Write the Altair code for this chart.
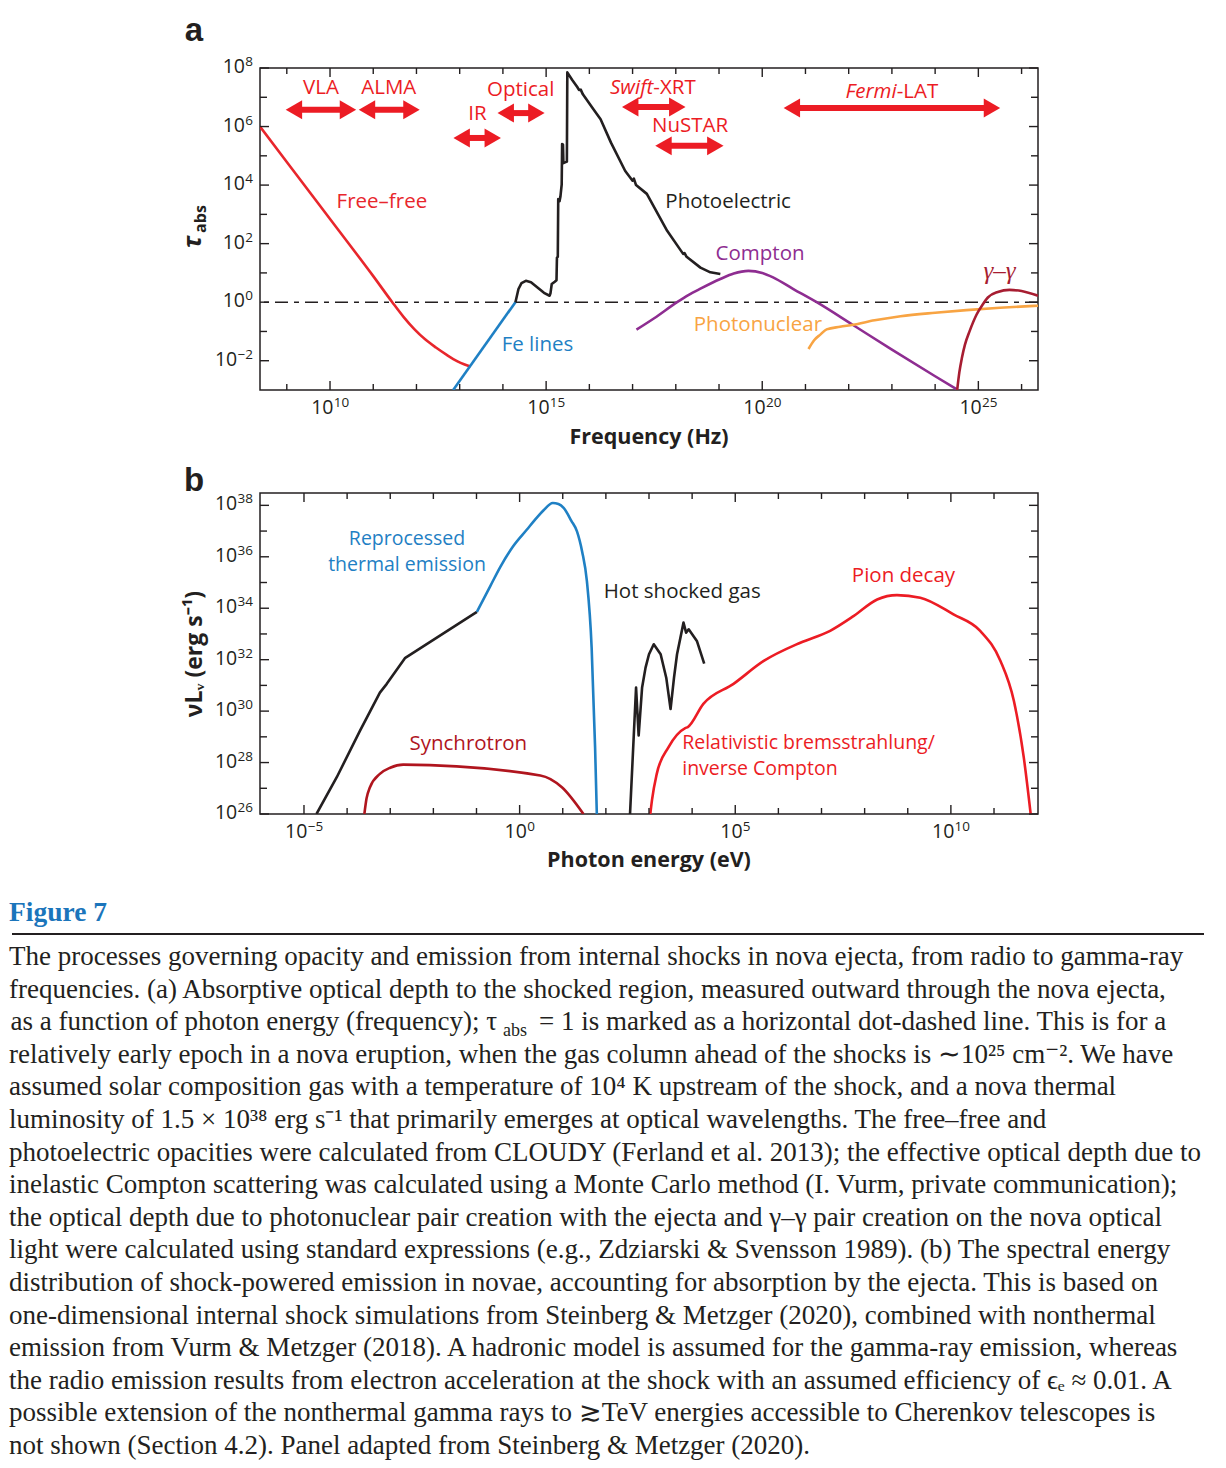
import altair as alt
import pandas as pd

FONT = "Open Sans"
SERIF = "Liberation Serif"
LETTER_FONT = "Liberation Sans"
AX = "#231f20"
RED = "#ec1c24"
FF_RED = "#e8262c"
BLUE = "#1f80c4"
BLACK = "#231f20"
PURPLE = "#8e2d91"
ORANGE = "#f8a443"
GG_RED = "#a71d31"
SYN_RED = "#b0151e"
CAP_BLUE = "#1b75bb"

W, HA, HB = 778, 322, 321

# ---------------- Panel a : log10(nu / Hz), log10(tau_abs) ----------------
a_x_domain = [8.38, 26.38]
a_y_domain = [-3.0, 8.0]

ff_x = [8.38, 9.0, 10.0, 11.0, 11.44, 11.7, 11.95, 12.2, 12.45, 12.7, 12.95, 13.1, 13.25]
ff_y = [6.0, 4.79, 2.84, 0.89, 0.0, -0.5, -0.92, -1.27, -1.55, -1.8, -2.02, -2.12, -2.2]

fe_x = [12.85, 14.29]
fe_y = [-3.0, 0.0]

pe_x = [14.29, 14.36, 14.43, 14.53, 14.65, 14.80, 14.95, 15.08, 15.10, 15.13, 15.20, 15.24, 15.25,
        15.27, 15.28, 15.31, 15.33, 15.36, 15.37, 15.39, 15.40, 15.48, 15.49, 15.60, 15.72, 15.76,
        15.80, 15.85, 16.09, 16.26, 16.50, 16.83, 17.00, 17.03, 17.08, 17.33, 17.80, 18.17, 18.20,
        18.25, 18.57, 18.80, 19.03]
pe_y = [0.00, 0.45, 0.65, 0.73, 0.68, 0.50, 0.32, 0.22, 0.30, 0.62, 0.70, 0.75, 1.52,
        1.55, 3.52, 3.45, 3.60, 4.02, 5.40, 5.38, 4.75, 4.80, 7.85, 7.60, 7.35, 7.25,
        7.26, 7.10, 6.60, 6.25, 5.45, 4.48, 4.15, 4.22, 4.00, 3.70, 2.44, 1.65, 1.68,
        1.55, 1.18, 1.02, 0.96]

co_x = [17.09, 17.5, 18.03, 18.3, 18.57, 19.03, 19.34, 19.68, 20.0, 20.26, 20.72, 21.26, 22.1, 23.0, 24.0, 24.49]
co_y = [-0.94, -0.55, 0.0, 0.25, 0.46, 0.79, 0.98, 1.07, 1.0, 0.84, 0.45, 0.0, -0.78, -1.62, -2.53, -2.97]

pn_x = [21.07, 21.2, 21.35, 21.49, 21.8, 22.1, 22.6, 23.2, 24.0, 24.72, 25.5, 26.38]
pn_y = [-1.6, -1.3, -1.1, -0.93, -0.84, -0.77, -0.62, -0.48, -0.36, -0.27, -0.19, -0.12]

gg_x = [24.51, 24.56, 24.62, 24.69, 24.8, 24.96, 25.1, 25.22, 25.45, 25.72, 26.0, 26.38]
gg_y = [-3.0, -2.4, -1.9, -1.45, -0.98, -0.42, -0.08, 0.16, 0.35, 0.42, 0.38, 0.22]

tau_one = [0.0]

arrow_lo = [8.98, 10.67, 12.86, 13.88, 16.76, 17.53, 20.5]
arrow_hi = [10.6, 12.07, 13.95, 14.96, 18.22, 19.1, 25.5]
arrow_tau = [6.57, 6.57, 5.61, 6.46, 6.67, 5.34, 6.63]

a_lab_text = ["Free\u2013free", "Fe lines", "Photoelectric", "Compton", "Photonuclear",
              "VLA", "ALMA", "IR", "Optical", "NuSTAR"]
a_lab_x = [11.20, 14.80, 19.21, 19.95, 19.90, 9.79, 11.36, 13.41, 14.41, 18.33]
a_lab_y = [3.43, -1.45, 3.43, 1.65, -0.77, 7.32, 7.32, 6.43, 7.25, 6.02]
a_lab_c = [FF_RED, BLUE, BLACK, PURPLE, ORANGE, RED, RED, RED, RED, RED]

ital_text = ["Swift", "Fermi"]
ital_rest = ["-XRT", "-LAT"]
ital_x = [17.48, 23.11]
ital_y = [7.32, 7.18]

gg_lab_x = [25.49]
gg_lab_y = [1.07]

a_xt_major = [10, 15, 20, 25]
a_xt_minor = [9, 11, 12, 13, 14, 16, 17, 18, 19, 21, 22, 23, 24, 26]
a_yt_major = [-2, 0, 2, 4, 6, 8]
a_yt_minor = [-1, 1, 3, 5, 7]

# ---------------- Panel b : log10(E / eV), log10(nu L_nu) ----------------
b_x_domain = [-6.02, 12.02]
b_y_domain = [26.0, 38.48]

th_x = [-4.71, -4.24, -3.70, -3.24, -3.08, -2.66, -0.99]
th_y = [26.0, 27.43, 29.24, 30.72, 31.06, 32.06, 33.86]

bl_x = [-0.99, -0.68, -0.45, -0.15, 0.17, 0.4, 0.55, 0.77, 0.9, 1.02, 1.2, 1.33, 1.45, 1.56, 1.67, 1.75, 1.79]
bl_y = [33.86, 34.86, 35.6, 36.41, 37.06, 37.52, 37.8, 38.09, 38.05, 37.9, 37.4, 36.99, 36.2, 35.05, 32.47, 28.59, 26.0]

sy_x = [-3.60, -3.55, -3.47, -3.24, -3.0, -2.70, 0.48, 0.98, 1.48]
sy_y = [26.0, 26.6, 27.04, 27.56, 27.8, 27.92, 27.5, 27.04, 26.0]

hg_x = [2.56, 2.70, 2.76, 2.84, 2.92, 3.0, 3.11, 3.27, 3.40, 3.50, 3.58, 3.65, 3.80, 3.86, 3.92, 4.11, 4.28]
hg_y = [26.0, 30.92, 29.05, 30.92, 31.69, 32.21, 32.6, 32.21, 31.3, 30.08, 31.3, 32.21, 33.44, 33.05, 33.18, 32.73, 31.85]

pi_x = [3.03, 3.07, 3.18, 3.45, 3.84, 3.9, 4.26, 4.96, 5.66, 6.51, 7.20, 7.75, 8.29, 8.75, 9.29,
        10.06, 10.68, 11.15, 11.46, 11.69, 11.85]
pi_y = [26.0, 26.55, 27.56, 28.59, 29.34, 29.38, 30.28, 31.06, 31.95, 32.66, 33.12, 33.70, 34.34, 34.51, 34.41,
        33.76, 33.12, 31.95, 30.40, 28.2, 26.0]

b_lab_text = ["Hot shocked gas", "Pion decay", "Synchrotron"]
b_lab_x = [3.77, 8.90, -1.19]
b_lab_y = [34.63, 35.25, 28.74]
b_lab_c = [BLACK, RED, SYN_RED]

b_two_text = ["Reprocessed", "thermal emission"]
b_two_x = [-2.61, -2.61]
b_two_y = [36.68, 35.67]

b_left_text = ["Relativistic bremsstrahlung/", "inverse Compton"]
b_left_x = [3.77, 3.77]
b_left_y = [28.76, 27.75]

b_xt_major = [-5, 0, 5, 10]
b_xt_minor = [-4, -3, -2, -1, 1, 2, 3, 4, 6, 7, 8, 9, 11]
b_yt_major = [26, 28, 30, 32, 34, 36, 38]
b_yt_minor = [27, 29, 31, 33, 35, 37]

# ---------------- Caption ----------------
caption_lines = [
    "The processes governing opacity and emission from internal shocks in nova ejecta, from radio to gamma-ray",
    "frequencies. (a) Absorptive optical depth to the shocked region, measured outward through the nova ejecta,",
    None,
    "relatively early epoch in a nova eruption, when the gas column ahead of the shocks is \u223c10\u00b2\u2075 cm\u207b\u00b2. We have",
    "assumed solar composition gas with a temperature of 10\u2074 K upstream of the shock, and a nova thermal",
    "luminosity of 1.5 \u00d7 10\u00b3\u2078 erg s\u207b\u00b9 that primarily emerges at optical wavelengths. The free\u2013free and",
    "photoelectric opacities were calculated from CLOUDY (Ferland et al. 2013); the effective optical depth due to",
    "inelastic Compton scattering was calculated using a Monte Carlo method (I. Vurm, private communication);",
    "the optical depth due to photonuclear pair creation with the ejecta and \u03b3\u2013\u03b3 pair creation on the nova optical",
    "light were calculated using standard expressions (e.g., Zdziarski & Svensson 1989). (b) The spectral energy",
    "distribution of shock-powered emission in novae, accounting for absorption by the ejecta. This is based on",
    "one-dimensional internal shock simulations from Steinberg & Metzger (2020), combined with nonthermal",
    "emission from Vurm & Metzger (2018). A hadronic model is assumed for the gamma-ray emission, whereas",
    "the radio emission results from electron acceleration at the shock with an assumed efficiency of \u03f5\u2091 \u2248 0.01. A",
    "possible extension of the nonthermal gamma rays to \u2273TeV energies accessible to Cherenkov telescopes is",
    "not shown (Section 4.2). Panel adapted from Steinberg & Metzger (2020).",
]
line3_parts = ["as a function of photon energy (frequency); \u03c4", "abs",
               "= 1 is marked as a horizontal dot-dashed line. This is for a"]


def pw(vals):
    return [10.0 ** v for v in vals]


dummy = pd.DataFrame({"d": [0]})

BASE_FS, EXP_FS = 19.5, 13.5
BASE_W = 2 * 0.572 * BASE_FS
EXP_W = 0.572 * EXP_FS


def exp_str(e):
    return str(e).replace("-", "\u2212")


def line_layer(lx, ly, color, xs, ys, width=2.6, smooth=False):
    df = pd.DataFrame({"x": pw(lx), "y": pw(ly), "i": list(range(len(lx)))})
    mk = dict(color=color, strokeWidth=width, clip=True, strokeJoin="round")
    if smooth:
        mk["interpolate"] = "monotone"
    return alt.Chart(df).mark_line(**mk).encode(
        x=alt.X("x:Q", scale=xs, axis=None), y=alt.Y("y:Q", scale=ys, axis=None), order="i:Q")


def tick_layer(vals, axis, side, length, xs, ys, H):
    df = pd.DataFrame({"v": pw(vals)})
    base = alt.Chart(df).mark_rule(color=AX, strokeWidth=1.4)
    if axis == "x":
        y0 = H if side == "bottom" else 0
        y1 = H - length if side == "bottom" else length
        return base.encode(x=alt.X("v:Q", scale=xs, axis=None), y=alt.value(y0), y2=alt.value(y1))
    x0 = 0 if side == "left" else W
    x1 = length if side == "left" else W - length
    return base.encode(y=alt.Y("v:Q", scale=ys, axis=None), x=alt.value(x0), x2=alt.value(x1))


def all_ticks(xmaj, xmin, ymaj, ymin, xs, ys, H):
    out = []
    for side in ["bottom", "top"]:
        out.append(tick_layer(xmaj, "x", side, 9, xs, ys, H))
        out.append(tick_layer(xmin, "x", side, 6, xs, ys, H))
    for side in ["left", "right"]:
        out.append(tick_layer(ymaj, "y", side, 9, xs, ys, H))
        out.append(tick_layer(ymin, "y", side, 7, xs, ys, H))
    return out


def x_tick_labels(vals, xs, H):
    out = []
    for n in (1, 2):
        sel = [e for e in vals if len(exp_str(e)) == n]
        if not sel:
            continue
        T = BASE_W + EXP_W * n
        dxb = -T / 2 + BASE_W
        df = pd.DataFrame({"v": pw(sel), "b": ["10"] * len(sel), "e": [exp_str(e) for e in sel]})
        out.append(alt.Chart(df).mark_text(font=FONT, fontSize=BASE_FS, color=AX, align="right",
                                           baseline="middle", dx=dxb).encode(
            x=alt.X("v:Q", scale=xs, axis=None), y=alt.value(H + 18), text="b:N"))
        out.append(alt.Chart(df).mark_text(font=FONT, fontSize=EXP_FS, color=AX, align="left",
                                           baseline="middle", dx=dxb + 0.3).encode(
            x=alt.X("v:Q", scale=xs, axis=None), y=alt.value(H + 13), text="e:N"))
    return out


def y_tick_labels(vals, ys):
    out = []
    for n in (1, 2):
        sel = [e for e in vals if len(exp_str(e)) == n]
        if not sel:
            continue
        df = pd.DataFrame({"v": pw(sel), "b": ["10"] * len(sel), "e": [exp_str(e) for e in sel]})
        out.append(alt.Chart(df).mark_text(font=FONT, fontSize=BASE_FS, color=AX, align="right",
                                           baseline="middle", dy=-1).encode(
            y=alt.Y("v:Q", scale=ys, axis=None), x=alt.value(-7 - EXP_W * n - 0.3), text="b:N"))
        out.append(alt.Chart(df).mark_text(font=FONT, fontSize=EXP_FS, color=AX, align="right",
                                           baseline="middle", dy=-6).encode(
            y=alt.Y("v:Q", scale=ys, axis=None), x=alt.value(-7), text="e:N"))
    return out


def text_layer(tx, lx, ly, colors, xs, ys, **mk):
    df = pd.DataFrame({"t": tx, "x": pw(lx), "y": pw(ly), "c": colors})
    return alt.Chart(df).mark_text(**mk).encode(
        x=alt.X("x:Q", scale=xs, axis=None), y=alt.Y("y:Q", scale=ys, axis=None),
        text="t:N", color=alt.Color("c:N", scale=None))


def fixed_text(txt, x, y, **mk):
    return alt.Chart(dummy).mark_text(text=txt, color=AX, **mk).encode(x=alt.value(x), y=alt.value(y))


LBL = dict(font=FONT, fontSize=20.5, align="center", baseline="middle")

# ---------------- Build panel a ----------------
xa = alt.Scale(type="log", domain=pw(a_x_domain), nice=False)
ya = alt.Scale(type="log", domain=pw(a_y_domain), nice=False)

a_layers = [
    # invisible anchor fixing the top-left corner of the page layout
    alt.Chart(dummy).mark_point(size=1, opacity=0).encode(x=alt.value(-250), y=alt.value(-58)),
    alt.Chart(pd.DataFrame({"y": pw(tau_one)})).mark_rule(color=AX, strokeWidth=1.5, strokeDash=[13, 6, 5, 6]).encode(
        y=alt.Y("y:Q", scale=ya, axis=None)),
    line_layer(ff_x, ff_y, FF_RED, xa, ya, smooth=True),
    line_layer(fe_x, fe_y, BLUE, xa, ya),
    line_layer(pe_x, pe_y, BLACK, xa, ya),
    line_layer(co_x, co_y, PURPLE, xa, ya, smooth=True),
    line_layer(pn_x, pn_y, ORANGE, xa, ya, smooth=True),
    line_layer(gg_x, gg_y, GG_RED, xa, ya, smooth=True),
]

arr_df = pd.DataFrame({"lo": pw(arrow_lo), "hi": pw(arrow_hi), "y": pw(arrow_tau)})
a_layers += [
    alt.Chart(arr_df).mark_rule(color=RED, strokeWidth=6, xOffset=8, x2Offset=-8).encode(
        x=alt.X("lo:Q", scale=xa, axis=None), x2="hi:Q", y=alt.Y("y:Q", scale=ya, axis=None)),
    alt.Chart(arr_df).mark_point(shape="triangle-left", size=360, filled=True, opacity=1, color=RED, xOffset=8).encode(
        x=alt.X("lo:Q", scale=xa, axis=None), y=alt.Y("y:Q", scale=ya, axis=None)),
    alt.Chart(arr_df).mark_point(shape="triangle-right", size=360, filled=True, opacity=1, color=RED, xOffset=-8).encode(
        x=alt.X("hi:Q", scale=xa, axis=None), y=alt.Y("y:Q", scale=ya, axis=None)),
]

a_layers += [
    text_layer(a_lab_text, a_lab_x, a_lab_y, a_lab_c, xa, ya, **LBL),
    text_layer(ital_text, ital_x, ital_y, [RED, RED], xa, ya, font=FONT, fontSize=20.5, fontStyle="italic",
               align="right", baseline="middle"),
    text_layer(ital_rest, ital_x, ital_y, [RED, RED], xa, ya, font=FONT, fontSize=20.5,
               align="left", baseline="middle"),
    text_layer(["\u03b3\u2013\u03b3"], gg_lab_x, gg_lab_y, [GG_RED], xa, ya, font=SERIF, fontSize=25,
               fontStyle="italic", align="center", baseline="middle"),
]
a_layers += all_ticks(a_xt_major, a_xt_minor, a_yt_major, a_yt_minor, xa, ya, HA)
a_layers += x_tick_labels(a_xt_major, xa, HA) + y_tick_labels(a_yt_major, ya)
a_layers += [
    fixed_text("Frequency (Hz)", W / 2, HA + 48, font=FONT, fontSize=21.5, fontWeight="bold",
               align="center", baseline="middle"),
    fixed_text("a", -66, -27, font=LETTER_FONT, fontSize=33, fontWeight="bold", align="center",
               baseline="alphabetic"),
    fixed_text("\u03c4", -67, 174, font=FONT, fontSize=25, fontWeight="bold", fontStyle="italic",
               angle=270, align="center", baseline="middle"),
    fixed_text("abs", -59, 151, font=FONT, fontSize=16, fontWeight="bold", angle=270,
               align="center", baseline="middle"),
]
chart_a = alt.layer(*a_layers).properties(width=W, height=HA, view=alt.ViewBackground(stroke=AX, strokeWidth=1.5))

# ---------------- Build panel b ----------------
xb = alt.Scale(type="log", domain=pw(b_x_domain), nice=False)
yb = alt.Scale(type="log", domain=pw(b_y_domain), nice=False)

b_layers = [
    line_layer(th_x, th_y, BLACK, xb, yb),
    line_layer(bl_x, bl_y, BLUE, xb, yb, smooth=True),
    line_layer(sy_x, sy_y, SYN_RED, xb, yb, smooth=True),
    line_layer(hg_x, hg_y, BLACK, xb, yb),
    line_layer(pi_x, pi_y, RED, xb, yb, smooth=True),
    text_layer(b_lab_text, b_lab_x, b_lab_y, b_lab_c, xb, yb, **LBL),
    text_layer(b_two_text, b_two_x, b_two_y, [BLUE, BLUE], xb, yb, font=FONT, fontSize=19.5,
               align="center", baseline="middle"),
    text_layer(b_left_text, b_left_x, b_left_y, [RED, RED], xb, yb, font=FONT, fontSize=19.5,
               align="left", baseline="middle"),
]
b_layers += all_ticks(b_xt_major, b_xt_minor, b_yt_major, b_yt_minor, xb, yb, HB)
b_layers += x_tick_labels(b_xt_major, xb, HB) + y_tick_labels(b_yt_major, yb)
b_layers += [
    fixed_text("Photon energy (eV)", W / 2, HB + 47, font=FONT, fontSize=21.5, fontWeight="bold",
               align="center", baseline="middle"),
    fixed_text("b", -66, -2, font=LETTER_FONT, fontSize=33, fontWeight="bold", align="center",
               baseline="alphabetic"),
    fixed_text("\u03bdL\u1d65 (erg s\u207b\u00b9)", -65, 161, font=FONT, fontSize=23, fontWeight="bold",
               angle=270, align="center", baseline="middle"),
]
chart_b = alt.layer(*b_layers).properties(width=W, height=HB, view=alt.ViewBackground(stroke=AX, strokeWidth=1.5))

# ---------------- Caption block ----------------
CX = -251          # page x = 8
C0 = 48            # first baseline relative to caption origin
CL = 32.6          # line spacing
CAP = dict(font=SERIF, fontSize=27, baseline="alphabetic")
cap_layers = [
    alt.Chart(dummy).mark_text(text="Figure 7", font=SERIF, fontSize=27.5, fontWeight="bold", color=CAP_BLUE,
                               align="left", baseline="alphabetic").encode(x=alt.value(CX), y=alt.value(4)),
    alt.Chart(dummy).mark_rule(color=AX, strokeWidth=2).encode(
        x=alt.value(CX + 3), x2=alt.value(944), y=alt.value(17)),
]
for k, line in enumerate(caption_lines):
    yk = C0 + CL * k
    if line is None:
        cap_layers.append(fixed_text(line3_parts[0], 237, yk, align="right", **CAP))
        cap_layers.append(fixed_text(line3_parts[1], 243, yk + 6, font=SERIF, fontSize=18,
                                     align="left", baseline="alphabetic"))
        cap_layers.append(fixed_text(line3_parts[2], 279, yk, align="left", **CAP))
    else:
        cap_layers.append(fixed_text(line, CX, yk, align="left", **CAP))
cap = alt.layer(*cap_layers).properties(width=W, height=10, view=alt.ViewBackground(stroke="transparent"))

chart = alt.vconcat(chart_a, chart_b, cap, spacing=103, bounds="flush").properties(
    padding={"left": 0, "top": 0, "right": 0, "bottom": 0})

chart.save("out.html", embed_options={"renderer": "svg", "actions": False})
